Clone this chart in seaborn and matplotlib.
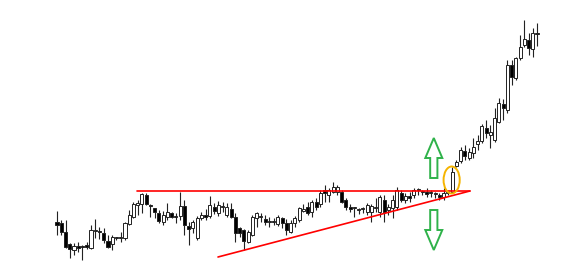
import numpy as np
import pandas as pd
import matplotlib
matplotlib.use("Agg")
import matplotlib.pyplot as plt
from matplotlib.patches import FancyArrow, Ellipse
import seaborn as sns

# ---------------- data (price units) ----------------
opens = [58, 57, 48, 36, 30, 34, 34, 35, 32, 49, 49, 47, 39, 36, 42, 42, 42, 56, 63, 75,
         76, 85, 75, 72, 67, 58, 63, 67, 63, 64, 74, 54, 52, 42, 62, 65, 64, 73, 67, 73,
         65, 71, 63, 52, 50, 38, 45, 62, 63, 61, 58, 58, 56, 62, 57, 48, 57, 60, 69, 73,
         68, 78, 76, 90, 85, 88, 88, 88, 80, 73, 72, 70, 71, 68, 68, 72, 68, 80, 70, 72,
         73, 87, 80, 84, 85, 90, 88, 88, 87, 86, 85, 83, 87, 88, 114, 119, 129, 122, 127, 136,
         139, 152, 145, 140, 158, 176, 170, 215, 202, 222, 235, 240, 231, 246]
highs = [69, 60, 60, 37, 37, 38, 35, 38, 55, 61, 53, 52, 45, 45, 43, 48, 58, 70, 78, 80,
         87, 87, 76, 72, 70, 69, 77, 68, 67, 88, 80, 58, 60, 64, 68, 71, 84, 77, 79, 78,
         77, 77, 67, 53, 51, 50, 65, 68, 67, 65, 63, 62, 65, 63, 61, 60, 64, 73, 76, 78,
         80, 82, 90, 95, 92, 98, 95, 90, 82, 76, 73, 72, 73, 77, 76, 82, 85, 85, 76, 85,
         93, 90, 87, 88, 92, 92, 90, 92, 90, 88, 87, 92, 89, 113, 120, 133, 135, 132, 142, 145,
         156, 160, 155, 172, 182, 181, 220, 220, 223, 245, 260, 247, 252, 257]
lows = [45, 45, 32, 22, 25, 28, 20, 31, 31, 42, 41, 37, 32, 30, 40, 38, 40, 55, 62, 65,
        67, 75, 63, 62, 57, 55, 60, 62, 57, 60, 45, 35, 47, 40, 60, 60, 62, 66, 64, 68,
        63, 62, 38, 43, 30, 37, 44, 53, 58, 55, 53, 55, 54, 52, 45, 47, 53, 58, 68, 65,
        63, 70, 73, 78, 78, 87, 85, 77, 70, 68, 63, 66, 67, 65, 58, 68, 63, 58, 65, 62,
        70, 78, 77, 78, 82, 85, 85, 83, 83, 82, 80, 80, 85, 87, 113, 117, 120, 120, 122, 130,
        137, 142, 132, 138, 157, 160, 167, 195, 200, 220, 233, 225, 223, 234]
closes = [55, 48, 33, 31, 34, 32, 33.5, 33, 50, 49.5, 48.5, 40, 33, 43, 43, 42.5, 57, 65, 76, 77,
          86, 76, 74, 68, 59, 65, 68, 63, 63.5, 74, 55, 51, 58, 62, 65, 63, 75, 69, 75, 73.5,
          73, 63, 47, 47, 39, 48, 63, 67, 63.5, 58, 58.5, 58.5, 63, 57, 50, 57, 62, 72, 71, 67,
          78, 73, 87, 87, 90, 93, 93, 78, 73, 71.5, 72.5, 70.5, 71.5, 75, 74, 72.5, 83, 68, 73, 80,
          90, 80, 84, 82, 90, 90.5, 88.5, 86, 87.5, 86.5, 83, 87, 87.5, 108, 118, 130, 124, 128, 133, 139,
          154, 147, 148, 162, 177, 172, 215, 203, 222, 233, 241, 232, 247, 246.5]

# annotation geometry (candle index, price)
resistance_x = [18.8, 97.2]
resistance_y = [89, 89]
support_x = [37.9, 97.2]
support_y = [23, 89]
arrow_x = 88.7
up_arrow = (102, 142)     # tail, tip
down_arrow = (70, 30)
highlight = (92.9, 100, 3.8, 27)   # x, y, width, height

df = pd.DataFrame({"open": opens, "high": highs, "low": lows, "close": closes})
df["idx"] = np.arange(len(df))
df["bull"] = df["close"] >= df["open"]

# ---------------- figure ----------------
sns.set_theme(style="white")
fig = plt.figure(figsize=(5.62, 2.79), dpi=100)
ax = fig.add_axes([0, 0, 1, 1])
ax.set_xlim(-13.42, 118.88)
ax.set_ylim(1, 280)
ax.axis("off")

# wicks
ax.vlines(df["idx"], df["low"], df["high"], color="#222222", lw=0.8, zorder=2)

# bodies
body_bottom = np.minimum(df["open"], df["close"])
body_h = np.maximum(np.abs(df["close"] - df["open"]), 0.6)
fills = np.where(df["bull"], "white", "black")
ax.bar(df["idx"], body_h, bottom=body_bottom, width=0.72, color=fills,
       edgecolor="#222222", linewidth=0.7, zorder=3)

# triangle lines
sns.lineplot(x=resistance_x, y=resistance_y, ax=ax, color="#ff0000", lw=1.2, zorder=4)
sns.lineplot(x=support_x, y=support_y, ax=ax, color="#ff0000", lw=1.2, zorder=4)

# arrows
green = "#2fb24a"
for tail, tip in (up_arrow, down_arrow):
    ax.add_patch(FancyArrow(arrow_x, tail, 0, tip - tail, width=1.7, head_width=4.0,
                            head_length=20, length_includes_head=True,
                            facecolor="white", edgecolor=green, lw=1.4, zorder=5))

# highlight ellipse
ax.add_patch(Ellipse((highlight[0], highlight[1]), highlight[2], highlight[3],
                     fill=False, edgecolor="#f5b400", lw=1.4, zorder=5))

fig.savefig("out.png", dpi=100)
